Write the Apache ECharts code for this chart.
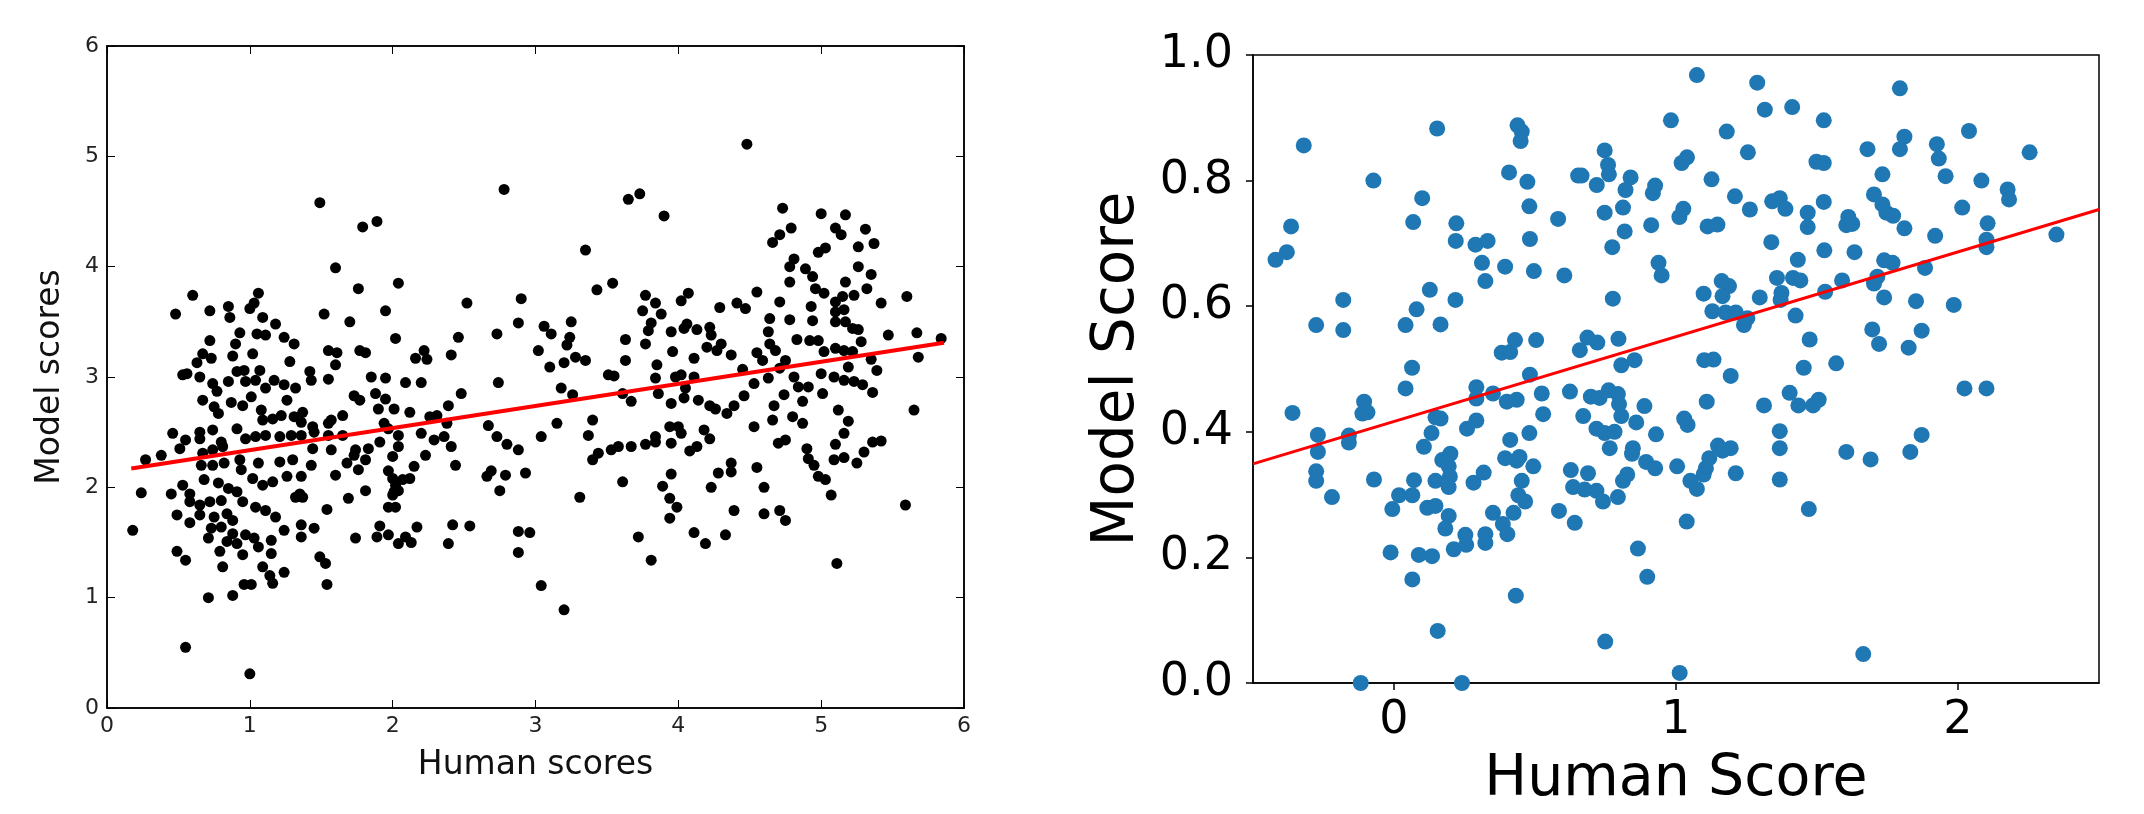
<!DOCTYPE html>
<html>
<head>
<meta charset="utf-8">
<script src="https://cdn.jsdelivr.net/npm/echarts@6.0.0/dist/echarts.min.js"></script>
<style>
html, body { margin: 0; padding: 0; background: #fff; }
#chart { width: 2144px; height: 814px; }
</style>
</head>
<body>
<div id="chart"></div>
<script>
// left panel: [human score, model score]
var leftPoints = [
  [1.06,3.76],[0.60,3.74],[0.48,3.57],[0.72,3.60],[0.85,3.64],[0.86,3.54],[1.00,3.62],[1.03,3.67],[1.09,3.54],[1.18,3.48],
  [0.93,3.40],[1.05,3.39],[1.11,3.38],[1.24,3.36],[0.72,3.33],[0.90,3.30],[1.02,3.21],[0.67,3.21],[0.73,3.17],[0.88,3.19],
  [0.63,3.13],[1.31,3.30],[1.28,3.14],[1.07,3.06],[0.53,3.02],[0.56,3.03],[0.91,3.05],[0.96,3.06],[0.85,2.96],[0.97,2.96],
  [0.65,3.00],[0.74,2.94],[1.04,2.97],[1.11,2.90],[1.17,2.97],[1.24,2.93],[1.32,2.90],[0.77,2.87],[1.01,2.82],[0.67,2.79],
  [0.87,2.77],[0.95,2.74],[1.26,2.79],[0.75,2.73],[0.78,2.67],[1.08,2.70],[1.16,2.62],[1.09,2.61],[1.31,2.64],[1.22,2.65],
  [0.91,2.53],[0.46,2.49],[0.65,2.50],[0.74,2.52],[0.55,2.43],[0.65,2.44],[0.51,2.35],[0.80,2.41],[0.97,2.44],[1.04,2.46],
  [1.11,2.47],[1.21,2.46],[1.29,2.47],[0.27,2.25],[0.38,2.29],[0.67,2.31],[0.74,2.34],[0.81,2.37],[0.66,2.20],[0.74,2.20],
  [0.82,2.22],[0.93,2.25],[1.06,2.22],[0.94,2.16],[1.21,2.23],[1.30,2.25],[1.02,2.08],[1.09,2.02],[1.16,2.05],[1.26,2.10],
  [1.32,1.91],[0.24,1.95],[0.45,1.94],[0.53,2.02],[0.58,1.94],[0.68,2.07],[0.78,2.04],[0.85,1.99],[0.91,1.96],[0.58,1.87],
  [0.65,1.84],[0.72,1.87],[0.80,1.88],[0.95,1.87],[1.04,1.82],[1.11,1.79],[1.18,1.73],[1.24,1.61],[0.49,1.75],[0.58,1.68],
  [0.65,1.75],[0.75,1.73],[0.84,1.76],[0.88,1.70],[0.18,1.61],[0.73,1.63],[0.80,1.64],[0.88,1.58],[0.97,1.57],[1.03,1.54],
  [0.71,1.54],[0.84,1.51],[0.91,1.49],[1.06,1.46],[1.15,1.52],[0.79,1.42],[0.95,1.39],[1.15,1.40],[0.49,1.42],[0.55,1.34],
  [0.81,1.28],[1.09,1.28],[1.24,1.23],[1.16,1.13],[0.96,1.12],[1.01,1.12],[0.71,1.00],[0.88,1.02],[1.14,1.20],
  [0.55,0.55],[1.00,0.31],
  [1.49,4.58],[1.79,4.36],[1.89,4.41],[2.78,4.70],[1.60,3.99],[1.76,3.80],[2.04,3.85],[1.52,3.57],[1.70,3.50],[1.95,3.60],
  [2.02,3.35],[2.52,3.67],[2.46,3.36],[2.41,3.20],[2.73,3.39],[2.90,3.71],[2.88,3.49],[3.06,3.46],[3.11,3.39],[3.02,3.24],
  [3.10,3.09],[2.74,2.95],[1.55,3.24],[1.61,3.22],[1.60,3.11],[1.77,3.24],[1.81,3.22],[2.16,3.17],[2.22,3.24],[2.24,3.16],
  [1.55,2.98],[1.85,3.00],[1.95,2.99],[2.09,2.95],[2.20,2.95],[1.42,3.05],[1.43,2.97],[2.48,2.85],[2.39,2.74],[1.73,2.83],
  [1.77,2.79],[1.88,2.85],[1.95,2.80],[1.90,2.71],[2.01,2.71],[2.12,2.68],[2.26,2.64],[2.31,2.65],[1.37,2.68],[1.36,2.59],
  [1.57,2.61],[1.65,2.65],[1.55,2.58],[1.44,2.55],[1.45,2.50],[1.55,2.47],[1.65,2.47],[1.94,2.58],[1.97,2.53],[2.04,2.47],
  [2.38,2.58],[2.67,2.56],[2.73,2.46],[2.80,2.39],[2.88,2.34],[3.04,2.46],[3.15,2.58],[2.20,2.49],[2.29,2.43],[2.36,2.46],
  [2.41,2.37],[1.36,2.47],[1.44,2.35],[1.57,2.34],[1.74,2.34],[1.83,2.35],[1.91,2.41],[2.04,2.37],[1.73,2.29],[1.68,2.22],
  [1.81,2.25],[2.00,2.28],[2.23,2.29],[1.43,2.20],[1.76,2.16],[1.97,2.15],[2.15,2.19],[2.44,2.20],[1.60,2.11],[1.36,2.10],
  [2.00,2.08],[2.07,2.07],[2.12,2.08],[2.02,2.02],[2.01,1.96],[2.00,1.93],[2.04,1.97],[1.81,1.97],[1.69,1.90],[1.35,1.94],
  [1.37,1.91],[1.54,1.80],[1.97,1.82],[2.02,1.82],[2.66,2.10],[2.69,2.15],[2.79,2.11],[2.93,2.13],[2.75,1.97],[1.36,1.66],
  [1.45,1.63],[1.36,1.55],[1.74,1.54],[1.91,1.65],[1.89,1.55],[1.97,1.57],[2.04,1.49],[2.09,1.55],[2.13,1.50],[2.17,1.64],
  [2.42,1.66],[2.54,1.65],[2.39,1.49],[2.88,1.60],[2.96,1.59],[2.88,1.41],[1.49,1.37],[1.53,1.31],[1.54,1.12],[3.04,1.11],
  [3.20,0.89],
  [4.48,5.11],[3.65,4.61],[3.73,4.66],[3.90,4.46],[3.35,4.15],[4.73,4.53],[4.79,4.35],[4.71,4.29],[4.66,4.22],[5.00,4.48],
  [3.43,3.79],[3.54,3.85],[3.25,3.50],[3.24,3.36],[3.22,3.29],[3.77,3.74],[3.84,3.67],[3.88,3.57],[3.75,3.60],[3.81,3.49],
  [3.79,3.42],[4.02,3.69],[4.07,3.76],[3.63,3.34],[3.77,3.30],[3.95,3.41],[4.04,3.44],[4.06,3.48],[4.13,3.43],[4.22,3.45],
  [4.23,3.38],[4.20,3.27],[4.30,3.30],[4.27,3.24],[4.37,3.20],[4.29,3.63],[4.41,3.67],[4.47,3.62],[4.55,3.77],[3.96,3.23],
  [4.11,3.17],[3.63,3.15],[3.28,3.18],[3.35,3.15],[3.20,3.13],[3.51,3.02],[3.55,3.01],[3.85,3.11],[3.84,2.99],[3.98,3.00],
  [4.02,3.02],[4.11,3.00],[3.86,2.85],[4.05,2.90],[4.04,2.81],[4.14,2.79],[3.95,2.76],[4.22,2.74],[4.26,2.71],[3.18,2.90],
  [3.26,2.84],[3.61,2.85],[3.67,2.78],[3.40,2.61],[3.37,2.47],[3.40,2.25],[3.44,2.31],[3.53,2.34],[3.58,2.37],[3.67,2.37],
  [3.77,2.39],[3.84,2.46],[3.84,2.41],[3.94,2.55],[4.00,2.55],[4.02,2.49],[3.95,2.40],[4.18,2.52],[4.22,2.44],[4.08,2.33],
  [4.13,2.37],[3.61,2.05],[3.31,1.91],[3.95,2.12],[3.89,2.01],[3.94,1.90],[3.99,1.82],[3.94,1.72],[3.72,1.55],[3.81,1.34],
  [4.11,1.59],[4.19,1.49],[4.33,1.57],[4.39,1.79],[4.23,2.00],[4.28,2.13],[4.37,2.22],[4.37,2.14],[4.55,2.18],[4.60,2.00],
  [4.60,1.76],[4.71,1.79],[4.75,1.70],[4.34,2.67],[4.39,2.74],[4.46,2.83],[4.53,2.94],[4.45,3.07],[4.55,3.22],[4.59,3.15],
  [4.63,2.99],[4.64,3.30],[4.68,3.24],[4.63,3.41],[4.64,3.53],[4.71,3.68],[4.78,3.52],[4.71,3.08],[4.75,3.15],[4.74,2.84],
  [4.67,2.74],[4.66,2.61],[4.53,2.55],[4.70,2.40],[4.75,2.43],[4.80,2.64],[4.87,2.58],[4.81,3.00],[4.84,2.91],[4.87,2.78],
  [4.91,2.91],[4.83,3.34],[4.92,3.33],[4.78,3.86],[4.78,4.00],[4.81,4.07],[4.89,3.98],[4.94,3.91],[4.96,3.80],[4.93,3.64],
  [4.94,3.51],[4.90,2.35],[4.91,2.26],[4.95,2.20],[4.98,2.10],[4.98,4.13],
  [5.17,4.47],[5.10,4.35],[5.14,4.29],[5.31,4.34],[5.37,4.21],[5.26,4.18],[5.03,4.17],[5.26,4.00],[5.35,3.93],[5.17,3.86],
  [5.32,3.80],[5.42,3.67],[5.60,3.73],[5.02,3.76],[5.10,3.68],[5.15,3.73],[5.23,3.74],[5.10,3.59],[5.16,3.61],[5.10,3.50],
  [5.17,3.50],[5.22,3.44],[5.26,3.43],[5.28,3.32],[5.47,3.38],[5.67,3.40],[5.84,3.35],[5.68,3.18],[4.98,3.33],[5.02,3.23],
  [5.10,3.26],[5.16,3.24],[5.22,3.23],[5.19,3.09],[5.35,3.16],[5.39,3.06],[5.00,3.03],[5.09,3.00],[5.16,2.97],[5.23,2.96],
  [5.29,2.93],[5.36,2.86],[5.01,2.85],[5.12,2.70],[5.19,2.60],[5.65,2.70],[5.16,2.49],[5.10,2.39],[5.36,2.41],[5.42,2.42],
  [5.30,2.32],[5.09,2.25],[5.16,2.27],[5.25,2.22],[5.03,2.07],[5.07,1.93],[5.59,1.84],[5.11,1.31]
];
var leftFit = [[0.17, 2.17], [5.86, 3.31]];
var leftTicks = [0, 1, 2, 3, 4, 5, 6];

// right panel: [human score, model score]
var rightPoints = [
  [-0.32,0.856],[-0.365,0.727],[-0.38,0.686],[-0.42,0.674],[-0.36,0.43],[-0.27,0.395],[-0.27,0.368],[-0.276,0.337],[-0.276,0.322],[-0.22,0.296],
  [-0.276,0.57],[-0.18,0.61],[-0.18,0.562],[-0.16,0.394],[-0.16,0.383],[-0.106,0.448],[-0.112,0.429],[-0.094,0.431],[-0.071,0.324],[-0.073,0.8],
  [-0.118,0.0],[0.153,0.883],[0.1,0.772],[0.068,0.734],[0.127,0.626],[0.08,0.595],[0.041,0.57],[0.165,0.571],[0.218,0.61],[0.221,0.732],
  [0.219,0.704],[0.289,0.698],[0.332,0.704],[0.312,0.669],[0.324,0.64],[0.394,0.663],[0.408,0.813],[0.438,0.888],[0.453,0.878],[0.449,0.863],
  [0.473,0.798],[0.48,0.759],[0.482,0.707],[0.496,0.656],[0.064,0.502],[0.041,0.469],[0.147,0.423],[0.165,0.421],[0.133,0.398],[0.106,0.376],
  [0.292,0.471],[0.292,0.453],[0.292,0.418],[0.259,0.405],[0.351,0.461],[0.382,0.526],[0.412,0.527],[0.429,0.546],[0.4,0.448],[0.435,0.451],
  [0.482,0.491],[0.504,0.546],[0.412,0.387],[0.48,0.398],[0.394,0.358],[0.435,0.354],[0.445,0.36],[0.494,0.345],[0.171,0.355],[0.2,0.365],
  [0.194,0.345],[0.198,0.329],[0.194,0.312],[0.147,0.322],[0.071,0.323],[0.065,0.299],[0.018,0.299],[-0.006,0.277],[0.118,0.279],[0.147,0.282],
  [0.194,0.266],[0.182,0.246],[0.282,0.319],[0.318,0.335],[0.351,0.271],[0.386,0.253],[0.402,0.237],[0.424,0.271],[0.453,0.322],[0.441,0.299],
  [0.465,0.289],[-0.012,0.208],[0.088,0.204],[0.135,0.202],[0.212,0.213],[0.253,0.236],[0.256,0.22],[0.324,0.237],[0.324,0.223],[0.065,0.165],
  [0.432,0.139],[0.155,0.083],[0.241,0.0],
  [0.524,0.461],[0.529,0.428],
  [1.074,0.968],[1.288,0.956],[1.315,0.913],[1.412,0.917],[1.524,0.896],[0.982,0.896],[1.18,0.878],[1.255,0.845],[0.747,0.848],[0.759,0.825],
  [0.762,0.81],[0.653,0.808],[0.665,0.808],[0.719,0.793],[0.839,0.805],[0.821,0.785],[0.926,0.792],[0.918,0.78],[1.02,0.828],[1.039,0.837],
  [1.126,0.802],[1.209,0.775],[1.262,0.754],[1.341,0.767],[1.368,0.772],[1.388,0.755],[1.467,0.749],[1.467,0.726],[1.498,0.83],[1.524,0.828],
  [1.524,0.766],[1.526,0.689],[1.529,0.623],[0.582,0.739],[0.747,0.749],[0.812,0.757],[0.818,0.719],[0.774,0.694],[0.912,0.729],[1.012,0.742],
  [1.026,0.755],[1.112,0.727],[1.147,0.73],[1.338,0.702],[0.604,0.649],[0.938,0.669],[0.949,0.649],[0.776,0.612],[1.098,0.62],[1.162,0.64],
  [1.188,0.632],[1.165,0.616],[1.129,0.592],[1.176,0.59],[1.212,0.59],[1.253,0.581],[1.241,0.57],[1.297,0.614],[1.358,0.645],[1.374,0.621],
  [1.371,0.61],[1.415,0.645],[1.441,0.641],[1.432,0.674],[1.424,0.585],[1.474,0.547],[1.453,0.502],[0.686,0.55],[0.659,0.53],[0.721,0.542],
  [0.796,0.548],[0.806,0.506],[0.853,0.514],[1.1,0.514],[1.133,0.515],[1.194,0.489],[0.624,0.464],[0.698,0.456],[0.729,0.454],[0.761,0.466],
  [0.794,0.46],[0.798,0.444],[0.806,0.425],[0.671,0.425],[0.888,0.441],[0.859,0.415],[0.718,0.405],[0.747,0.398],[0.782,0.4],[0.929,0.396],
  [0.765,0.374],[0.847,0.374],[0.844,0.365],[1.029,0.421],[1.041,0.411],[1.109,0.448],[1.312,0.442],[1.403,0.462],[1.434,0.442],[1.486,0.442],
  [1.506,0.451],[1.368,0.401],[1.368,0.374],[1.368,0.324],[1.149,0.378],[1.194,0.374],[1.165,0.37],[1.118,0.358],[1.106,0.342],[1.098,0.332],
  [1.004,0.345],[1.051,0.322],[1.074,0.309],[1.212,0.334],[0.894,0.352],[0.926,0.342],[0.827,0.332],[0.812,0.322],[0.627,0.339],[0.688,0.334],
  [0.635,0.312],[0.676,0.308],[0.718,0.306],[0.741,0.289],[0.794,0.296],[0.585,0.274],[0.641,0.255],[1.038,0.257],[0.865,0.214],[0.898,0.169],
  [0.749,0.066],[1.013,0.016],[1.471,0.277],
  [1.794,0.947],[2.039,0.879],[1.81,0.87],[1.794,0.85],[1.679,0.85],[1.925,0.858],[1.932,0.835],[2.254,0.845],[1.732,0.81],[1.956,0.807],
  [2.083,0.8],[2.176,0.786],[2.181,0.77],[1.702,0.778],[1.732,0.762],[1.746,0.749],[1.77,0.744],[2.015,0.757],[1.611,0.742],[1.604,0.729],
  [1.625,0.731],[1.81,0.724],[1.919,0.712],[2.105,0.732],[2.101,0.706],[2.101,0.694],[2.349,0.714],[1.633,0.686],[1.738,0.673],[1.768,0.669],
  [1.883,0.661],[1.589,0.641],[1.714,0.647],[1.702,0.636],[1.738,0.614],[1.851,0.608],[1.985,0.602],[1.696,0.563],[1.871,0.561],[1.72,0.54],
  [1.825,0.534],[1.568,0.509],[2.023,0.469],[2.101,0.469],[1.871,0.395],[1.831,0.368],[1.604,0.368],[1.69,0.356],[1.664,0.046]
];
var rightFit = [[-0.5, 0.349], [2.5, 0.754]];
var rightXTicks = [0, 1, 2];
var rightYTicks = [0, 0.2, 0.4, 0.6, 0.8, 1.0];

var FONT = 'DejaVu Sans';

(function () {
  var myChart = echarts.init(document.getElementById('chart'), null, { renderer: 'canvas' });

  var black = { color: '#000', width: 1.5 };

  option = {
    animation: false,
    backgroundColor: '#fff',
    grid: [
      { left: 107, top: 46, width: 857, height: 662, show: true, borderColor: '#000', borderWidth: 1.5 },
      { left: 1253, top: 55, width: 846, height: 628, show: true, borderColor: '#000', borderWidth: 1.5 }
    ],
    xAxis: [
      {
        gridIndex: 0, type: 'value', min: leftTicks[0], max: leftTicks[leftTicks.length - 1], interval: 1,
        axisLine: { show: true, onZero: false, lineStyle: black },
        axisTick: { inside: true, length: 8, lineStyle: { color: '#000', width: 1 } },
        axisLabel: { fontFamily: FONT, fontSize: 22, color: '#222', margin: 7 },
        splitLine: { show: false },
        name: 'Human scores', nameLocation: 'middle', nameGap: 41,
        nameTextStyle: { fontFamily: FONT, fontSize: 33, color: '#111' }
      },
      {
        gridIndex: 0, type: 'value', position: 'top', min: 0, max: 6, interval: 1,
        axisLine: { show: true, onZero: false, lineStyle: black },
        axisTick: { inside: true, length: 8, lineStyle: { color: '#000', width: 1 } },
        axisLabel: { show: false }, splitLine: { show: false }
      },
      {
        gridIndex: 1, type: 'value', min: -0.5, max: 2.5,
        axisLine: { show: true, onZero: false, lineStyle: black },
        axisTick: { show: true, customValues: rightXTicks, length: 7, lineStyle: { color: '#000', width: 1.5 } },
        axisLabel: { customValues: rightXTicks, fontFamily: FONT, fontSize: 46, color: '#000', margin: 15 },
        splitLine: { show: false },
        name: 'Human Score', nameLocation: 'middle', nameGap: 69,
        nameTextStyle: { fontFamily: FONT, fontSize: 57, color: '#000' }
      }
    ],
    yAxis: [
      {
        gridIndex: 0, type: 'value', min: 0, max: 6, interval: 1,
        axisLine: { show: true, onZero: false, lineStyle: black },
        axisTick: { inside: true, length: 8, lineStyle: { color: '#000', width: 1 } },
        axisLabel: { fontFamily: FONT, fontSize: 22, color: '#222', margin: 8 },
        splitLine: { show: false },
        name: 'Model scores', nameLocation: 'middle', nameGap: 40,
        nameTextStyle: { fontFamily: FONT, fontSize: 33, color: '#111' }
      },
      {
        gridIndex: 0, type: 'value', position: 'right', min: 0, max: 6, interval: 1,
        axisLine: { show: true, onZero: false, lineStyle: black },
        axisTick: { inside: true, length: 8, lineStyle: { color: '#000', width: 1 } },
        axisLabel: { show: false }, splitLine: { show: false }
      },
      {
        gridIndex: 1, type: 'value', min: rightYTicks[0], max: rightYTicks[rightYTicks.length - 1], interval: 0.2,
        axisLine: { show: true, onZero: false, lineStyle: black },
        axisTick: { show: true, length: 7, lineStyle: { color: '#000', width: 1.5 } },
        axisLabel: {
          fontFamily: FONT, fontSize: 46, color: '#000', margin: 20,
          formatter: function (v) { return v.toFixed(1); }
        },
        splitLine: { show: false },
        name: 'Model Score', nameLocation: 'middle', nameGap: 106,
        nameTextStyle: { fontFamily: FONT, fontSize: 58, color: '#000' }
      }
    ],
    series: [
      {
        type: 'scatter', xAxisIndex: 0, yAxisIndex: 0,
        data: leftPoints, symbolSize: 11,
        itemStyle: { color: '#000', opacity: 1 }, z: 2
      },
      {
        type: 'line', xAxisIndex: 0, yAxisIndex: 0,
        data: leftFit, showSymbol: false,
        lineStyle: { color: '#ff0000', width: 4 }, z: 3
      },
      {
        type: 'scatter', xAxisIndex: 2, yAxisIndex: 2,
        data: rightPoints, symbolSize: 16,
        itemStyle: { color: '#1f77b4', opacity: 1 }, z: 2
      },
      {
        type: 'line', xAxisIndex: 2, yAxisIndex: 2,
        data: rightFit, showSymbol: false,
        lineStyle: { color: '#ff0000', width: 3 }, z: 3
      }
    ]
  };

  myChart.setOption(option);
})();
</script>
</body>
</html>
